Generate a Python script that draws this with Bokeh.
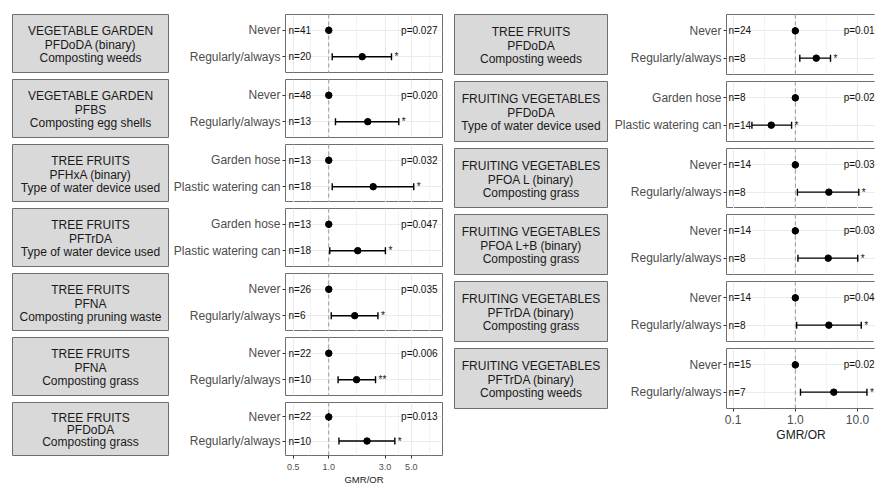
import numpy as np
from bokeh.plotting import figure
from bokeh.layouts import row, column
from bokeh.models import Range1d, FactorRange, FixedTicker, NumeralTickFormatter, Span, ColumnDataSource
from bokeh.core.properties import value
from bokeh.embed import file_html
from bokeh.resources import INLINE

FONT = "Liberation Sans"
BORDER = "#6E6E6E"
STRIP_FILL = "#D9D9D9"
GRID = "#EBEBEB"

# ---------------- data: left column ----------------
L_group = ["VEGETABLE GARDEN", "VEGETABLE GARDEN", "TREE FRUITS", "TREE FRUITS",
           "TREE FRUITS", "TREE FRUITS", "TREE FRUITS"]
L_compound = ["PFDoDA (binary)", "PFBS", "PFHxA (binary)", "PFTrDA", "PFNA", "PFNA", "PFDoDA"]
L_exposure = ["Composting weeds", "Composting egg shells", "Type of water device used",
              "Type of water device used", "Composting pruning waste", "Composting grass",
              "Composting grass"]
L_ref_cat = ["Never", "Never", "Garden hose", "Garden hose", "Never", "Never", "Never"]
L_exp_cat = ["Regularly/always", "Regularly/always", "Plastic watering can", "Plastic watering can",
             "Regularly/always", "Regularly/always", "Regularly/always"]
L_ref_n = [41, 48, 13, 13, 26, 22, 22]
L_exp_n = [20, 13, 18, 18, 6, 10, 10]
L_est = [1.92, 2.14, 2.38, 1.76, 1.66, 1.72, 2.11]
L_low = [1.07, 1.14, 1.07, 1.02, 1.05, 1.20, 1.22]
L_high = [3.40, 3.92, 5.25, 3.02, 2.61, 2.49, 3.63]
L_p = ["p=0.027", "p=0.020", "p=0.032", "p=0.047", "p=0.035", "p=0.006", "p=0.013"]
L_sig = ["*", "*", "*", "*", "*", "**", "*"]
L_ticks = [0.5, 1, 3, 5]
L_xlim = (0.43, 9.2)

# ---------------- data: right column ----------------
R_group = ["TREE FRUITS", "FRUITING VEGETABLES", "FRUITING VEGETABLES", "FRUITING VEGETABLES",
           "FRUITING VEGETABLES", "FRUITING VEGETABLES"]
R_compound = ["PFDoDA", "PFDoDA", "PFOA L (binary)", "PFOA L+B (binary)", "PFTrDA (binary)",
              "PFTrDA (binary)"]
R_exposure = ["Composting weeds", "Type of water device used", "Composting grass", "Composting grass",
              "Composting grass", "Composting weeds"]
R_ref_cat = ["Never", "Garden hose", "Never", "Never", "Never", "Never"]
R_exp_cat = ["Regularly/always", "Plastic watering can", "Regularly/always", "Regularly/always",
             "Regularly/always", "Regularly/always"]
R_ref_n = [24, 8, 14, 14, 14, 15]
R_exp_n = [8, 14, 8, 8, 8, 7]
R_est = [2.17, 0.41, 3.46, 3.38, 3.46, 4.16]
R_low = [1.18, 0.20, 1.08, 1.10, 1.05, 1.21]
R_high = [3.68, 0.87, 10.5, 10.1, 11.5, 14.2]
R_p = ["p=0.01", "p=0.02", "p=0.03", "p=0.03", "p=0.04", "p=0.02"]
R_sig = ["*", "*", "*", "*", "*", "*"]
R_ticks = [0.1, 1, 10]
R_xlim = (0.078, 19.5)

X_TITLE = "GMR/OR"


def minor_breaks(ticks, lim):
    lt = np.log10(np.array(ticks, dtype=float))
    step = lt[1] - lt[0]
    ext = np.concatenate([[lt[0] - step], lt, [lt[-1] + step]])
    mids = 10 ** ((ext[:-1] + ext[1:]) / 2)
    return [float(v) for v in mids if lim[0] <= v <= lim[1]]


def strip_fig(lines, w, h, mbl, mbr, mbt, mbb, fh, line_gap):
    s = figure(width=w, height=h, x_range=Range1d(-1, 1), y_range=Range1d(-fh / 2, fh / 2),
               x_axis_location=None, y_axis_location=None, toolbar_location=None,
               output_backend="svg", min_border_left=mbl, min_border_right=mbr,
               min_border_top=mbt, min_border_bottom=mbb,
               background_fill_color=STRIP_FILL, border_fill_color="white",
               outline_line_color=BORDER, outline_line_width=1)
    s.xgrid.grid_line_color = None
    s.ygrid.grid_line_color = None
    ys = [(1 - k) * line_gap for k in range(len(lines))]
    s.text(x=[0] * len(lines), y=ys, text=lines, y_offset=1, text_align="center",
           text_baseline="middle", text_font=value(FONT), text_font_size="12px",
           text_color="#1A1A1A")
    return s


def panel_fig(ref_cat, exp_cat, ref_n, exp_n, est, low, high, pval, sig,
              xlim, ticks, w, h, mbl, mbr, mbt, mbb, bottom, tick_fs, title_fs,
              n_off, p_off, outline_dash, axis_cfg):
    y_range = FactorRange(factors=[exp_cat, ref_cat], range_padding=0.1,
                          range_padding_units="absolute")
    p = figure(width=w, height=h, x_axis_type="log", x_range=Range1d(*xlim), y_range=y_range,
               x_axis_location="below" if bottom else None, y_axis_location="left",
               toolbar_location=None, output_backend="svg",
               min_border_left=mbl, min_border_right=mbr, min_border_top=mbt,
               min_border_bottom=mbb, background_fill_color="white",
               border_fill_color="white", outline_line_color=BORDER, outline_line_width=1)
    if outline_dash:
        p.outline_line_dash = outline_dash

    ticker = FixedTicker(ticks=ticks, minor_ticks=minor_breaks(ticks, xlim))
    p.xgrid.ticker = ticker
    p.xgrid.grid_line_color = GRID
    p.xgrid.grid_line_width = 1.1
    p.xgrid.minor_grid_line_color = GRID
    p.xgrid.minor_grid_line_width = 0.6
    p.ygrid.grid_line_color = GRID
    p.ygrid.grid_line_width = 1.1

    yax = p.yaxis[0]
    yax.axis_line_color = None
    yax.major_tick_in = 0
    yax.major_tick_out = 3
    yax.major_tick_line_color = "#333333"
    yax.major_label_text_font = FONT
    yax.major_label_text_font_size = "12px"
    yax.major_label_text_color = "#4D4D4D"
    yax.major_label_standoff = 2

    if bottom:
        xax = p.xaxis[0]
        xax.ticker = ticker
        xax.formatter = NumeralTickFormatter(format="0.0")
        xax.axis_line_color = None
        xax.major_tick_in = 0
        xax.major_tick_out = axis_cfg["tick_out"]
        xax.minor_tick_line_color = None
        xax.major_tick_line_color = "#333333"
        xax.major_label_text_font = FONT
        xax.major_label_text_font_size = tick_fs
        xax.major_label_text_color = "#4D4D4D"
        xax.major_label_standoff = axis_cfg["label_standoff"]
        xax.axis_label = X_TITLE
        xax.axis_label_text_font = FONT
        xax.axis_label_text_font_style = "normal"
        xax.axis_label_text_font_size = title_fs
        xax.axis_label_text_color = "#1A1A1A"
        xax.axis_label_standoff = axis_cfg["title_standoff"]

    p.add_layout(Span(location=1, dimension="height", line_color="#9A9A9A",
                      line_dash="4 3", line_width=1, level="underlay"))

    src = ColumnDataSource(dict(
        y=[ref_cat, exp_cat], est=[1.0, est], low=[1.0, low], high=[1.0, high],
        n=[f"n={ref_n}", f"n={exp_n}"], xs=[xlim[0], xlim[0]]))

    p.segment(x0="low", y0="y", x1="high", y1="y", source=src, line_color="black",
              line_width=1.4)
    p.scatter(x="low", y="y", marker="dash", angle=np.pi / 2, size=7, line_color="black",
              line_width=1.4, source=src)
    p.scatter(x="high", y="y", marker="dash", angle=np.pi / 2, size=7, line_color="black",
              line_width=1.4, source=src)
    p.scatter(x="est", y="y", size=6.5, fill_color="black", line_color="black", source=src)

    p.text(x="xs", y="y", text="n", source=src, x_offset=n_off, text_align="left",
           text_baseline="middle", text_font=value(FONT), text_font_size="10px",
           text_color="#111111")
    p.text(x=[xlim[1]], y=[ref_cat], text=[pval], x_offset=p_off, text_align="right",
           text_baseline="middle", text_font=value(FONT), text_font_size="10px",
           text_color="#111111")
    p.text(x=[high], y=[exp_cat], text=[sig], x_offset=3, text_align="left",
           text_baseline="middle", text_font=value(FONT), text_font_size="10px",
           text_color="#111111")
    return p


BOTTOM = 487

# ---------------- layout: left column ----------------
L_tops = [14, 79, 144, 208, 273, 337, 402]
L_fh = 58
left_rows = []
for i in range(len(L_group)):
    start = 0 if i == 0 else L_tops[i] - 6
    mbt = L_tops[i] - start
    end = (L_tops[i + 1] - 6) if i + 1 < len(L_tops) else BOTTOM
    h = end - start
    mbb = h - mbt - L_fh
    last = i == len(L_group) - 1
    s = strip_fig([L_group[i], L_compound[i], L_exposure[i]], 169, h, 12, 1, mbt, mbb,
                  L_fh, 13.5)
    p = panel_fig(L_ref_cat[i], L_exp_cat[i], L_ref_n[i], L_exp_n[i], L_est[i], L_low[i],
                  L_high[i], L_p[i], L_sig[i], L_xlim, L_ticks, 281, h, 116, 8, mbt, mbb,
                  last, "9px", "9.5px", 3, -5, None,
                  dict(tick_out=3, label_standoff=4, title_standoff=1))
    left_rows.append(row(s, p))

# ---------------- layout: right column ----------------
R_tops = [14, 81, 148, 214, 281, 348]
R_fh = 60
right_rows = []
for i in range(len(R_group)):
    start = 0 if i == 0 else R_tops[i] - 6
    mbt = R_tops[i] - start
    end = (R_tops[i + 1] - 6) if i + 1 < len(R_tops) else BOTTOM
    h = end - start
    mbb = h - mbt - R_fh
    last = i == len(R_group) - 1
    s = strip_fig([R_group[i], R_compound[i], R_exposure[i]], 159, h, 4, 2, mbt, mbb,
                  R_fh, 13.3)
    p = panel_fig(R_ref_cat[i], R_exp_cat[i], R_ref_n[i], R_exp_n[i], R_est[i], R_low[i],
                  R_high[i], R_p[i], R_sig[i], R_xlim, R_ticks, 266, h, 117, 0, mbt, mbb,
                  last, "12px", "12px", 2, -1, "148 61 3000",
                  dict(tick_out=3, label_standoff=2, title_standoff=1))
    right_rows.append(row(s, p))

layout = row(column(*left_rows), column(*right_rows))

open("out.html", "w").write(file_html(layout, INLINE))
